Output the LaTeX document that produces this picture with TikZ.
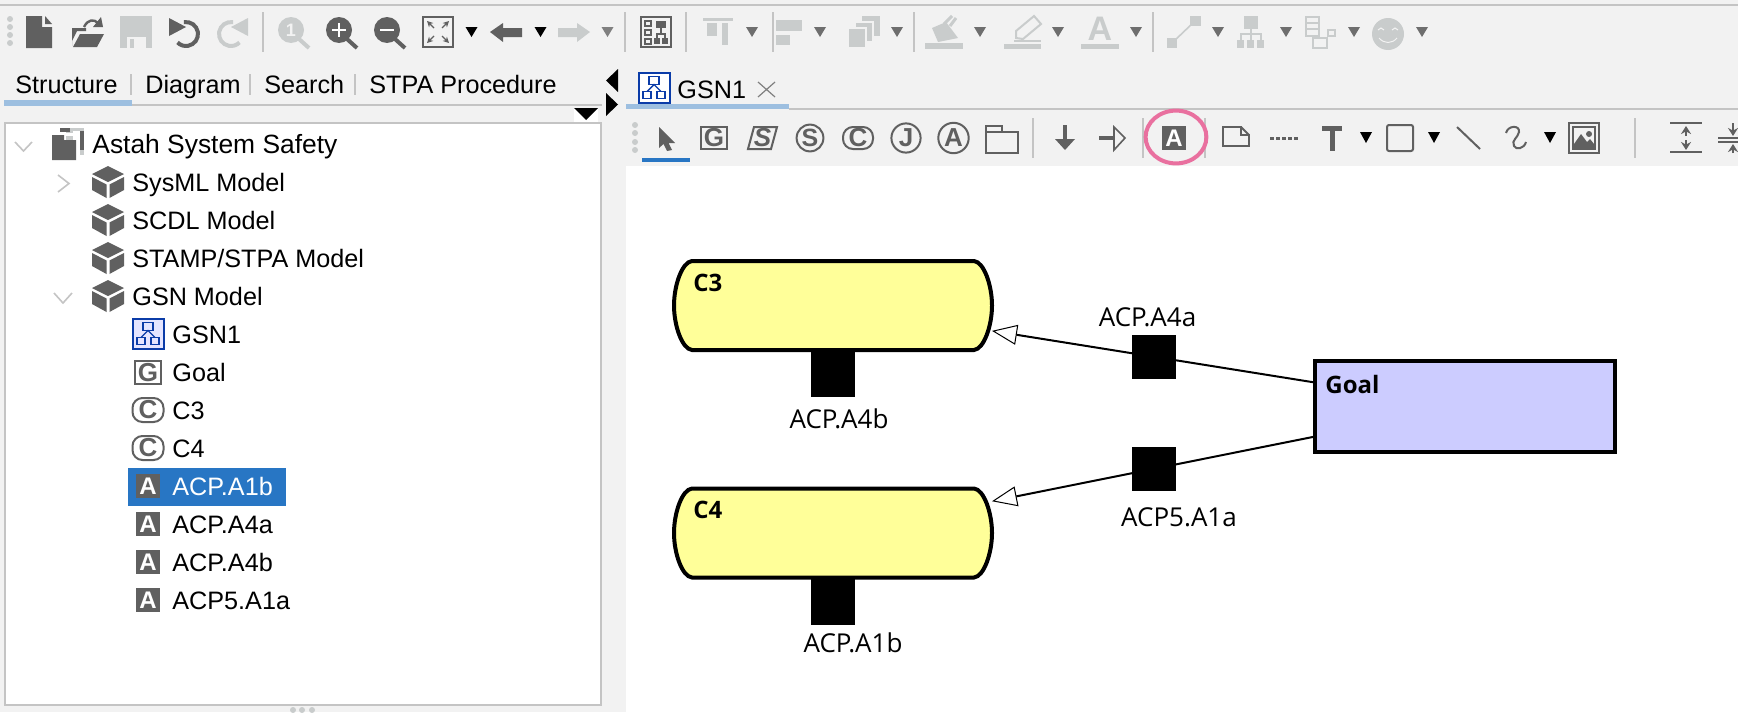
\documentclass[tikz,border=0pt]{standalone}
\usepackage{fontspec}
\setmainfont{Liberation Sans}
\newfontfamily\gsnfont{Open Sans}
\usetikzlibrary{arrows.meta}

\definecolor{uibg}{HTML}{F2F2F2}
\definecolor{uiline}{HTML}{C4C4C4}
\definecolor{icondark}{HTML}{606060}
\definecolor{iconoff}{HTML}{C9CCCC}
\definecolor{dropdark}{HTML}{6E6E6E}
\definecolor{tabblue}{HTML}{9DBFE0}
\definecolor{selblue}{HTML}{2876C4}
\definecolor{gsnblue}{HTML}{0B3CA8}
\definecolor{contextyellow}{HTML}{FFFF99}
\definecolor{goalblue}{HTML}{CCCCFF}
\definecolor{ringpink}{HTML}{E9709F}

\tikzset{
    uilabel/.style={font=\fontsize{12.6}{15}\selectfont, anchor=base west, inner sep=0pt},
    gsnlabel/.style={font=\gsnfont\fontsize{13}{15}\selectfont, anchor=base, inner sep=0pt},
    gsnname/.style={font=\gsnfont\bfseries\fontsize{12}{14}\selectfont, anchor=base west, inner sep=0pt},
    iconletter/.style={font=\bfseries\fontsize{#1}{#1}\selectfont, inner sep=0pt, text=icondark},
    goalbox/.style={draw, line width=2pt, fill=goalblue, minimum width=150pt, minimum height=45.5pt, inner sep=0pt},
    contextbox/.style={minimum width=159pt, minimum height=44.5pt, inner sep=0pt, outer sep=0pt},
    contextline/.style={draw, line width=2pt, fill=contextyellow},
    assumption/.style={fill=black, minimum width=22pt, minimum height=22pt, inner sep=0pt},
    realizes/.style={line width=1pt, -{Triangle[fill=white, line width=0.5pt, length=12.5pt, width=10pt]}},
    pics/cubeicon/.style={code={
        \fill[icondark] (0,-16) -- (16,-8) -- (0,0) -- (-16,-8) -- cycle;
        \fill[icondark] (-16,-5) -- (-1.5,2.5) -- (-1.5,16) -- (-16,8) -- cycle;
        \fill[icondark] (16,-5) -- (1.5,2.5) -- (1.5,16) -- (16,8) -- cycle;
    }},
    pics/aicon/.style={code={
        \fill[icondark] (-12,-12) rectangle (12,12);
        \node[iconletter=12, text=white] (-l) at (0,0) {A};
    }},
    pics/cicon/.style={code={
        \draw[icondark, line width=1pt, rounded corners=5pt] (-15.5,-12) rectangle (15.5,12);
        \node[iconletter=13] (-l) at (0,0) {C};
    }},
    pics/gsnicon/.style={code={
        \draw[gsnblue, line width=1pt, fill=#1] (-15.5,-15) rectangle (15.5,15);
        \draw[gsnblue, line width=0.7pt] (-5,-11) rectangle (5,-3);
        \draw[gsnblue, line width=0.7pt] (-11,4) rectangle (-3,11);
        \draw[gsnblue, line width=0.7pt] (3,4) rectangle (11,11);
        \draw[gsnblue, line width=0.7pt] (-7,4) -- (0,-3) -- (7,4);
    }},
}

% Outline of a context, drawn round its node
\newcommand{\contextoutline}[1]{
    \draw[contextline] (#1.north west) ++(18,0) -- ++(282,0)
        .. controls +(10,1) and +(0,-20) .. ++(18,44.5)
        .. controls +(0,20) and +(10,-1) .. ++(-18,44.5) -- ++(-282,0)
        .. controls +(-10,-1) and +(0,20) .. ++(-18,-44.5)
        .. controls +(0,-20) and +(-10,1) .. ++(18,-44.5) -- cycle;
}

\begin{document}
\begin{tikzpicture}[x=0.5pt, y=-0.5pt]
    \useasboundingbox (0,0) rectangle (1738,712);
    \clip (0,0) rectangle (1738,712);

    % Window, tree panel and canvas
    \fill[uibg] (0,0) rectangle (1738,712);
    \fill[white] (626,166) rectangle (1738,712);
    \draw[uiline, line width=1pt, fill=white] (5,123) rectangle (601,705);
    \draw[uiline, line width=1pt] (0,5) -- (1738,5);

    % Grips
    \foreach \yy in {19,27,35,43} \fill[iconoff] (10,\yy) circle[radius=1.5pt];
    \foreach \yy in {125,133,142,150} \fill[iconoff] (635,\yy) circle[radius=1.5pt];
    \foreach \xx in {293,302,312} \fill[iconoff] (\xx,710) circle[radius=1.5pt];

    % Separators of the toolbars
    \foreach \xx in {263,625,686,773,914,1153} \draw[uiline, line width=0.8pt] (\xx,12) -- (\xx,52);
    \foreach \xx in {1033,1143,1205,1635} \draw[uiline, line width=0.8pt] (\xx,118) -- (\xx,158);

    % Drop down triangles
    \foreach \xx in {471.5,540.5} \fill[black] (\xx-6,27) -- (\xx+6,27) -- (\xx,37) -- cycle;
    \fill[gray] (601.5,27) -- (613.5,27) -- (607.5,37) -- cycle;
    \foreach \xx in {752,820,897,980,1058,1136,1218,1286,1354,1422}
        \fill[dropdark] (\xx-6,27) -- (\xx+6,27) -- (\xx,37) -- cycle;
    \foreach \xx in {1366,1434,1550} \fill[black] (\xx-6,132) -- (\xx+6,132) -- (\xx,143) -- cycle;

    % New, open, save
    \fill[icondark] (26,16) -- (42,16) -- (42,27) -- (52,27) -- (52,48) -- (26,48) -- cycle;
    \fill[icondark] (45,16) -- (52,24) -- (45,24) -- cycle;
    \fill[icondark] (72,46) -- (72,28) -- (86,28) -- (86,31) -- (77,31) -- (72,41) -- cycle;
    \fill[icondark] (73,47) -- (80,34) -- (104,34) -- (97,47) -- cycle;
    \draw[icondark, line width=1.2pt] (84,27) .. controls (88,19) and (94,19) .. (98,23);
    \fill[icondark] (93,27) -- (103,27) -- (101,17) -- cycle;
    \fill[iconoff] (120,16) rectangle (152,48);
    \fill[uibg] (127,37) rectangle (146,48);
    \fill[iconoff] (130,39) rectangle (134,48);

    % Undo, redo
    \draw[icondark, line width=2pt] (186,34) ++(100:6pt) arc[start angle=100, end angle=-135, radius=6pt];
    \fill[icondark] (169,18) -- (169,36) -- (186,27) -- cycle;
    \draw[iconoff, line width=2pt] (231,34) ++(80:6pt) arc[start angle=80, end angle=315, radius=6pt];
    \fill[iconoff] (248,18) -- (248,36) -- (231,27) -- cycle;

    % Zoom
    \draw[iconoff, line width=2pt] (299,39) -- (309,48);
    \fill[iconoff] (291,30) circle[radius=6.5pt];
    \node[iconletter=9, text=uibg] (zoomone) at (291,30) {1};
    \draw[icondark, line width=2pt] (347,39) -- (357,48);
    \fill[icondark] (339,30) circle[radius=6.5pt];
    \draw[white, line width=1.2pt] (332,30) -- (346,30) (339,23) -- (339,37);
    \draw[icondark, line width=2pt] (395,39) -- (405,48);
    \fill[icondark] (387,30) circle[radius=6.5pt];
    \draw[white, line width=1.2pt] (380,30) -- (394,30);

    % Fit to window
    \draw[icondark, line width=1pt] (423,17) rectangle (453,47);
    \foreach \sx/\sy in {-1/-1,1/-1,-1/1,1/1}
        \draw[icondark, line width=0.6pt, -{Stealth[length=3pt, width=3pt]}]
            (438+4*\sx,32+4*\sy) -- (438+11*\sx,32+11*\sy);

    % Back, forward
    \fill[icondark] (490,32) -- (503,23) -- (503,28) -- (522,28) -- (522,37) -- (503,37) -- (503,42) -- cycle;
    \fill[iconoff] (590,32) -- (577,23) -- (577,28) -- (558,28) -- (558,37) -- (577,37) -- (577,42) -- cycle;

    % Diagram overview
    \draw[icondark, line width=1pt] (641,17) rectangle (671,47);
    \foreach \yy in {21,30,39} \draw[icondark, line width=0.7pt] (645,\yy) rectangle (651,\yy+5);
    \fill[icondark] (656,21) rectangle (666,28);
    \draw[icondark, line width=0.7pt] (661,28) -- (661,34) (657,38) -- (657,34) -- (665,34) -- (665,38);
    \fill[icondark] (654,38) rectangle (660,44);
    \fill[icondark] (662,38) rectangle (668,44);

    % Alignment, disabled
    \fill[iconoff] (703,18) rectangle (733,21);
    \fill[iconoff] (707,23) rectangle (717,36);
    \fill[iconoff] (722,23) rectangle (728,45);
    \fill[iconoff] (776,20) rectangle (802,31);
    \fill[iconoff] (776,35) rectangle (790,45);
    \fill[iconoff] (862,16) rectangle (880,36);
    \draw[uibg, line width=0.8pt, fill=iconoff] (855,22) rectangle (873,42);
    \draw[uibg, line width=0.8pt, fill=iconoff] (848,28) rectangle (866,48);

    % Fill, pen, font colours, disabled
    \fill[iconoff] (925,43) rectangle (963,49);
    \fill[iconoff] (932,28) -- (946,22) -- (958,38) -- (938,42) -- cycle;
    \draw[iconoff, line width=1.5pt] (944,24) -- (952,16) (950,26) -- (956,18);
    \fill[iconoff] (1004,44) rectangle (1041,49);
    \draw[iconoff, line width=0.7pt] (1014,41) -- (1041,41);
    \draw[iconoff, line width=1pt] (1016,38) -- (1016,31) -- (1034,16) -- (1041,24) -- (1023,39) -- cycle;
    \fill[iconoff] (1081,44) rectangle (1119,49);
    \node[iconletter=17, text=iconoff] (fontcolor) at (1100,29) {A};

    % Connector, tree, list, smiley, disabled
    \draw[iconoff, line width=0.8pt] (1172,43) -- (1195,21);
    \fill[iconoff] (1167,38) rectangle (1177,48);
    \fill[iconoff] (1190,16) rectangle (1201,26);
    \fill[iconoff] (1244,16) rectangle (1258,29);
    \draw[iconoff, line width=0.8pt] (1251,29) -- (1251,34) (1241,40) -- (1241,34) -- (1261,34) -- (1261,40) (1251,34) -- (1251,40);
    \foreach \xx in {1237,1247,1257} \fill[iconoff] (\xx,40) rectangle (\xx+7,48);
    \draw[iconoff, line width=0.8pt] (1306,17) rectangle (1319,36);
    \draw[iconoff, line width=0.8pt] (1306,23) -- (1319,23) (1306,29) -- (1319,29);
    \draw[iconoff, line width=0.8pt] (1328,30) rectangle (1335,36);
    \draw[iconoff, line width=0.8pt] (1313,38) rectangle (1327,48);
    \fill[iconoff] (1388,34) circle[radius=8pt];
    \draw[uibg, line width=0.5pt] (1378,30) -- (1381,28) -- (1384,30) (1392,30) -- (1395,28) -- (1398,30);
    \draw[uibg, line width=0.5pt] (1379,38) .. controls (1384,44) and (1392,44) .. (1397,38);

    % Tabs of the left panel
    \node[uilabel] (tabstructure) at (15,93) {Structure};
    \node[uilabel] (tabdiagram) at (145,93) {Diagram};
    \node[uilabel] (tabsearch) at (264,93) {Search};
    \node[uilabel] (tabprocedure) at (369,93) {STPA Procedure};
    \foreach \xx in {131,250,355} \draw[uiline, line width=0.8pt] (\xx,74) -- (\xx,95);
    \draw[uiline, line width=1pt] (132,105) -- (602,105);
    \draw[tabblue, line width=3pt] (4,103) -- (132,103);

    % Panel arrows
    \fill[black] (618,69) -- (618,92) -- (606,80.5) -- cycle;
    \fill[black] (606,93) -- (606,116) -- (618,104.5) -- cycle;
    \fill[white] (574,109) rectangle (598,122);
    \fill[black] (574,108) -- (598,108) -- (586,120) -- cycle;

    % Tab of the diagram
    \draw[uiline, line width=1pt] (789,109) -- (1738,109);
    \draw[tabblue, line width=2.5pt] (626,106.5) -- (789,106.5);
    \pic (gsntab) at (654,87.5) {gsnicon={white}};
    \node[uilabel] (tabgsn) at (677,98) {GSN1};
    \draw[gray, line width=0.6pt] (758,82) -- (775,97) (775,82) -- (758,97);

    % Select tool and its marker
    \fill[icondark] (659,127) -- (675,143) -- (668.5,143) -- (672,150) -- (667,151) -- (663.5,144) -- (659,148) -- cycle;
    \draw[selblue, line width=2pt] (642,160) -- (690,160);

    % GSN element tools
    \draw[icondark, line width=1pt] (701,127) rectangle (727,149);
    \node[iconletter=13] (toolgoal) at (714,138) {G};
    \draw[icondark, line width=1pt] (754,127) -- (777,127) -- (771,149) -- (748,149) -- cycle;
    \node[iconletter=13, font=\bfseries\itshape\fontsize{13}{13}\selectfont] (toolstrategy) at (762.5,138) {S};
    \draw[icondark, line width=1pt] (810,138) circle[radius=6.7pt];
    \node[iconletter=12.5] (toolsolution) at (810,138) {S};
    \draw[icondark, line width=1pt, rounded corners=5pt] (843,127) rectangle (873,149);
    \node[iconletter=13] (toolcontext) at (858,138) {C};
    \draw[icondark, line width=1pt] (906,138) circle[radius=7.3pt];
    \node[iconletter=13] (tooljustification) at (906,138) {J};
    \draw[icondark, line width=1pt] (953.5,138) circle[radius=7.6pt];
    \node[iconletter=13] (toolassumption) at (953.5,138) {A};
    \draw[icondark, line width=0.8pt] (986,132) -- (986,126) -- (1002,126) -- (1002,132) -- (1018,132) -- (1018,153) -- (986,153) -- cycle -- (1002,132);

    % Connection tools
    \draw[icondark, line width=1.6pt] (1065,125) -- (1065,142);
    \fill[icondark] (1055,139) -- (1075,139) -- (1065,150) -- cycle;
    \draw[icondark, line width=1.6pt] (1099,138) -- (1114,138);
    \draw[icondark, line width=0.8pt] (1114,127) -- (1125,138) -- (1114,150) -- cycle;

    % Assumption tool, ringed
    \fill[icondark] (1162,126) rectangle (1186,150);
    \node[iconletter=12, text=white] (toolacp) at (1174,138) {A};
    \draw[ringpink, line width=2pt] (1176,137) ellipse[x radius=15.2pt, y radius=13.2pt];

    % Note, text, shape tools
    \draw[icondark, line width=1pt] (1223,127) -- (1241,127) -- (1241,135) -- (1249,135) -- (1249,146) -- (1223,146) -- cycle;
    \draw[icondark, line width=1pt] (1241,127) -- (1249,135);
    \draw[icondark, line width=1.5pt, dash pattern=on 2pt off 1pt] (1270,138) -- (1299,138);
    \fill[icondark] (1322,126) rectangle (1342,131);
    \fill[icondark] (1329.5,131) rectangle (1334.5,151);
    \draw[icondark, line width=1pt, rounded corners=1pt] (1387,125) rectangle (1413,151);
    \draw[icondark, line width=1pt] (1457,127) -- (1480,149);
    \draw[icondark, line width=1pt] (1506,133) .. controls (1508,125) and (1520,125) .. (1519,132)
        .. controls (1518,138) and (1511,140) .. (1514,146) .. controls (1516,150) and (1524,149) .. (1526,142);

    % Image tool
    \draw[icondark, line width=1pt] (1569,123) rectangle (1599,153);
    \draw[icondark, line width=0.7pt] (1573,127) rectangle (1595,149);
    \fill[icondark] (1574,148) -- (1574,144) -- (1581,134) -- (1587,142) -- (1590,139) -- (1594,144) -- (1594,148) -- cycle;
    \fill[icondark] (1589,134) circle[radius=1.5pt];

    % Distribute tools
    \draw[icondark, line width=0.8pt] (1670,123) -- (1702,123) (1670,152) -- (1702,152);
    \draw[icondark, line width=0.8pt, -{Stealth[length=4pt, width=5pt]}] (1686,136) -- (1686,126);
    \draw[icondark, line width=0.8pt, -{Stealth[length=4pt, width=5pt]}] (1686,140) -- (1686,150);
    \draw[icondark, line width=0.8pt] (1718,138) -- (1738,138) (1718,142) -- (1738,142);
    \draw[icondark, line width=0.8pt, -{Stealth[length=4pt, width=5pt]}] (1733,123) -- (1733,136);
    \draw[icondark, line width=0.8pt, -{Stealth[length=4pt, width=5pt]}] (1733,153) -- (1733,144);

    % Tree of the model
    \draw[uiline, line width=0.8pt] (15,142) -- (23.5,151) -- (32,142);
    \draw[uiline, line width=0.8pt] (58,175) -- (69,183.5) -- (58,192);
    \draw[uiline, line width=0.8pt] (54,293) -- (63,303) -- (72,293);
    \fill[iconoff] (66,128) rectangle (84,155);
    \fill[icondark] (60,128) -- (70,128) -- (70,132) -- (60,132) -- cycle;
    \fill[white] (73,131) rectangle (80,155);
    \fill[icondark] (80,131) rectangle (84,150);
    \fill[white] (57,133) rectangle (76,136);
    \fill[icondark] (52,135) -- (64,135) -- (64,140) -- (76,140) -- (76,160) -- (52,160) -- cycle;
    \node[uilabel, font=\fontsize{13.2}{15}\selectfont] (treeroot) at (92,153) {Astah System Safety};
    \foreach \nodename/\rowtext/\rowy in {sysml/SysML Model/182, scdl/SCDL Model/220, stamp/{STAMP/STPA Model}/258, gsn/GSN Model/296} {
        \pic at (108,\rowy) {cubeicon};
        \node[uilabel] (tree\nodename) at (132,\rowy+9) {\rowtext};
    }
    \pic (gsntree) at (148,333.5) {gsnicon={blue!10}};
    \node[uilabel] (treegsnone) at (172,343) {GSN1};
    \draw[icondark, line width=1pt] (135,361) rectangle (161,384);
    \node[iconletter=13] (treegoalicon) at (148,372.5) {G};
    \node[uilabel] (treegoal) at (172,381) {Goal};
    \pic (treecthree) at (148,410) {cicon};
    \node[uilabel] (treecthreename) at (172,419) {C3};
    \pic (treecfour) at (148,448) {cicon};
    \node[uilabel] (treecfourname) at (172,457) {C4};
    \fill[selblue] (128,468) rectangle (286,506);
    \pic (treeaone) at (148,486) {aicon};
    \node[uilabel, text=white] (treeacpone) at (172,495) {ACP.A1b};
    \foreach \nodename/\rowtext/\rowy in {acpa/ACP.A4a/524, acpb/ACP.A4b/562, acpc/ACP5.A1a/600} {
        \pic at (148,\rowy) {aicon};
        \node[uilabel] (tree\nodename) at (172,\rowy+9) {\rowtext};
    }

    % GSN elements
    \node[contextbox] (c3) at (833,305.5) {};
    \node[contextbox] (c4) at (833,533) {};
    \contextoutline{c3}
    \contextoutline{c4}
    \node[goalbox] (goal) at (1465,406.5) {};
    \node[gsnname] (c3name) at (693,291) {C3};
    \node[gsnname] (c4name) at (693,518) {C4};
    \node[gsnname] (goalname) at (1325,393) {Goal};

    % Context links
    \draw[realizes] (goal) -- (c3);
    \draw[realizes] (goal) -- (c4);

    % Assumptions and their labels
    \node[assumption] (acpafour) at (1154,357) {};
    \node[assumption] (acpfive) at (1154,469) {};
    \node[assumption, minimum height=23.5pt] (acpbfour) at (833,373.5) {};
    \node[assumption, minimum height=23.5pt] (acpone) at (833,601.5) {};
    \node[gsnlabel] (acpafourlabel) at (1147.5,326) {ACP.A4a};
    \node[gsnlabel] (acpfivelabel) at (1179,526) {ACP5.A1a};
    \node[gsnlabel] (acpbfourlabel) at (839,428) {ACP.A4b};
    \node[gsnlabel] (acponelabel) at (853,652) {ACP.A1b};
\end{tikzpicture}
\end{document}
